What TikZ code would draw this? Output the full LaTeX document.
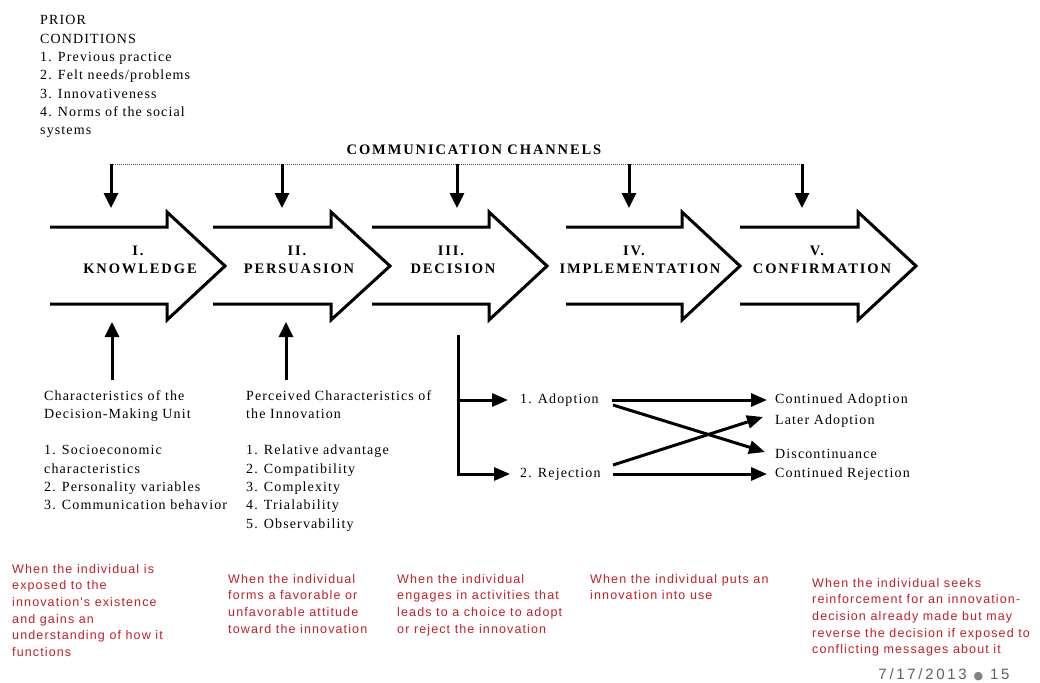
\documentclass[tikz,border=0pt]{standalone}
\usepackage{fontspec}
\setmainfont{Liberation Serif}
\newfontfamily\serifsp[LetterSpace=8]{Liberation Serif}
\newfontfamily\stagefont[LetterSpace=13]{Liberation Serif}
\newfontfamily\redfont[LetterSpace=9]{Liberation Sans}
\newfontfamily\footfont[LetterSpace=18]{Liberation Sans}
\newfontfamily\symfont{DejaVu Sans}
\usetikzlibrary{arrows.meta,calc}
\definecolor{redc}{RGB}{192,32,42}
\definecolor{footc}{RGB}{96,96,96}
\tikzset{
  stage/.style={draw=black, line width=3pt, line join=miter, miter limit=10},
  stagetxt/.style={font=\stagefont\bfseries\fontsize{14.5}{16}\selectfont, inner sep=0pt, anchor=base},
  comm/.style={line width=3pt, -{Triangle[width=14pt,length=15pt]}},
  conn/.style={line width=3pt, -{Triangle[width=13pt,length=16pt]}},
  dotline/.style={line width=1pt, densely dotted, black!70},
  body/.style={font=\serifsp\fontsize{14}{18.3}\selectfont, inner sep=0pt, align=left, anchor=north west},
  lbl/.style={font=\serifsp\fontsize{14}{16}\selectfont, inner sep=0pt, anchor=west, text height=9.5pt, text depth=3pt},
  redtxt/.style={font=\redfont\fontsize{12.5}{16.6}\selectfont, text=redc, inner sep=0pt, align=left, anchor=north west},
  foot/.style={font=\footfont\fontsize{15}{16}\selectfont, text=footc, inner sep=0pt, anchor=base},
}
\begin{document}
\begin{tikzpicture}[x=1pt,y=-1pt]
\useasboundingbox[fill=white] (0,0) rectangle (1040,682);

% prior conditions
\node[body] (prior) at (40,15.5) {PRIOR\\CONDITIONS\\1. Previous practice\\2. Felt needs/problems\\3. Innovativeness\\4. Norms of the social\\systems};

% communication channels
\node[stagetxt] (cc) at (474,154) {COMMUNICATION CHANNELS};
\foreach \x [count=\i] in {111,282,457,629,802} {
  \coordinate (c\i) at (\x,164);
  \coordinate (ct\i) at (\x,208);
}
\draw[dotline] (c1) -- (c5);
\foreach \i in {1,...,5} \draw[comm] (c\i) -- (ct\i);

% stage arrows
\foreach \L/\S/\T in {50/167/225, 213/331/390, 372/489/547, 566/682/740, 740/858/916}
  \draw[stage] (\L,227) -- (\S,227) -- (\S,212) -- (\T,266) -- (\S,320) -- (\S,304) -- (\L,304);

\node[stagetxt] (n1) at (138,255) {I.};
\node[stagetxt] (s1) at (140,273) {KNOWLEDGE};
\node[stagetxt] (n2) at (297,255) {II.};
\node[stagetxt] (s2) at (299,273) {PERSUASION};
\node[stagetxt] (n3) at (451,255) {III.};
\node[stagetxt] (s3) at (453,273) {DECISION};
\node[stagetxt] (n4) at (634,255) {IV.};
\node[stagetxt] (s4) at (640,273) {IMPLEMENTATION};
\node[stagetxt] (n5) at (817,255) {V.};
\node[stagetxt] (s5) at (822,273) {CONFIRMATION};

% characteristics
\node[body] (dmu) at (44,390) {Characteristics of the\\Decision-Making Unit\\[18.3pt]1. Socioeconomic\\characteristics\\2. Personality variables\\3. Communication behavior};
\node[body] (pci) at (246,390) {Perceived Characteristics of\\the Innovation\\[18.3pt]1. Relative advantage\\2. Compatibility\\3. Complexity\\4. Trialability\\5. Observability};
\coordinate (u1s) at (112,380);
\coordinate (u1) at (112,322);
\coordinate (u2s) at (286,380);
\coordinate (u2) at (286,322);
\draw[comm] (u1s) -- (u1);
\draw[comm] (u2s) -- (u2);

% decision branches
\coordinate (dtop) at (458,335);
\node[lbl] (adopt) at (520,400) {1. Adoption};
\node[lbl] (rej) at (520,474) {2. Rejection};
\node[lbl] (cad) at (775,400) {Continued Adoption};
\node[lbl] (lad) at (775,421) {Later Adoption};
\node[lbl] (disc) at (775,455) {Discontinuance};
\node[lbl] (crej) at (775,474) {Continued Rejection};

\draw[conn] (dtop) |- ($(rej.west)+(-10,0)$);
\draw[conn] (dtop |- adopt.west) -- ($(adopt.west)+(-12,0)$);

\draw[conn] (612,400) -- ($(cad.west)+(-8,0)$);
\draw[conn] (613,405) -- ($(disc.west)+(-10,-3)$);
\draw[conn] (613,465) -- ($(lad.west)+(-12,-4)$);
\draw[conn] (613,474) -- ($(crej.west)+(-8,0)$);

% red descriptions
\node[redtxt] (r1) at (12,564) {When the individual is\\exposed to the\\innovation's existence\\and gains an\\understanding of how it\\functions};
\node[redtxt] (r2) at (228,574) {When the individual\\forms a favorable or\\unfavorable attitude\\toward the innovation};
\node[redtxt] (r3) at (397,574) {When the individual\\engages in activities that\\leads to a choice to adopt\\or reject the innovation};
\node[redtxt] (r4) at (590,574) {When the individual puts an\\innovation into use};
\node[redtxt] (r5) at (812,578) {When the individual seeks\\reinforcement for an innovation-\\decision already made but may\\reverse the decision if exposed to\\conflicting messages about it};

% footer
\node[foot] (date) at (944,679) {7/17/2013 {\symfont\fontsize{11}{12}\selectfont\color{footc!80}●} 15};
\end{tikzpicture}
\end{document}
